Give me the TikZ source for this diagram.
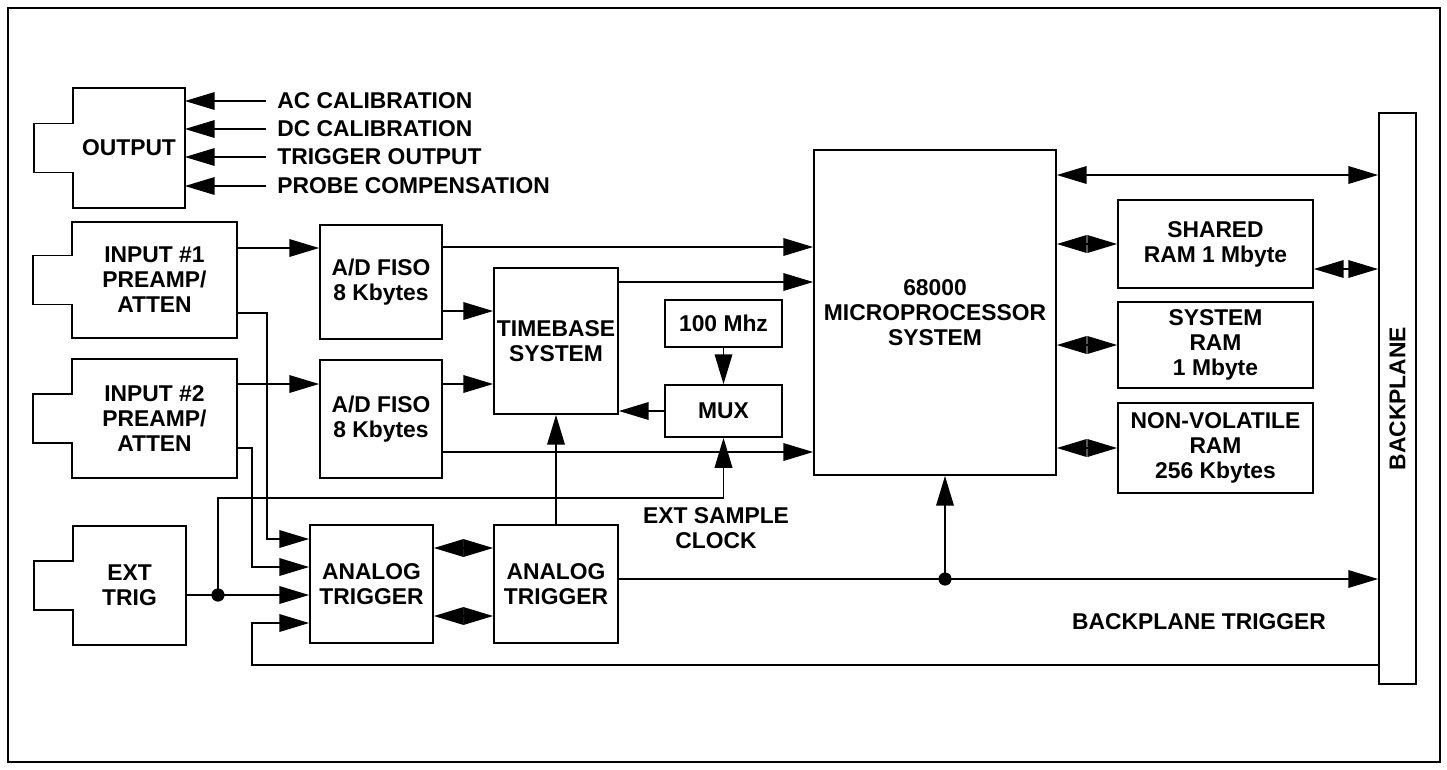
\documentclass[tikz,border=0pt]{standalone}
\usepackage{fontspec}
\setmainfont{Liberation Sans}
\usetikzlibrary{arrows.meta, positioning}

\tikzset{
  blk/.style={draw, line width=1pt, align=center, inner sep=0pt},
  plug/.style={blk, draw=none},
  lbl/.style={anchor=west, inner sep=0pt},
  wire/.style={line width=1pt},
  arr/.style={wire, -{Triangle[length=17pt,width=10pt]}},
  dbl/.style={wire, {Triangle[length=17pt,width=10pt]}-{Triangle[length=17pt,width=10pt]}},
  dot/.style={circle, fill, inner sep=0pt, minimum size=7.5pt},
}
% block with a plug on its left side
\newcommand{\plugbox}[1]{%
  \draw[line width=1pt] (#1.north west) -- (#1.north east) -- (#1.south east)
    -- (#1.south west) -- ([shift={(0,24.5)}]#1.west) -- ++(-39,0) -- ++(0,-49) -- ++(39,0) -- cycle;}

\begin{document}
\begin{tikzpicture}[x=0.02cm, y=-0.02cm, font=\fontsize{13}{14.2}\selectfont\bfseries]
    \useasboundingbox (0,0) rectangle (1447,769);
    \draw[line width=1.6pt] (8,8) rectangle (1440,762);

    % Plug-in blocks on the left
    \node[plug, minimum width=2.2cm, minimum height=2.36cm] (out) at (129,148) {OUTPUT};
    \node[plug, minimum width=3.26cm, minimum height=2.28cm] (in1) at (154.5,280) {INPUT \#1\\PREAMP/\\ATTEN};
    \node[plug, minimum width=3.26cm, minimum height=2.34cm] (in2) at (154.5,418.5) {INPUT \#2\\PREAMP/\\ATTEN};
    \node[plug, minimum width=2.22cm, minimum height=2.34cm] (ext) at (129.5,585.5) {EXT\\TRIG};
    \plugbox{out}
    \plugbox{in1}
    \plugbox{in2}
    \plugbox{ext}

    % Calibration signals
    \foreach \y/\t/\n in {101/AC CALIBRATION/ac, 129/DC CALIBRATION/dc, 157/TRIGGER OUTPUT/to, 186/PROBE COMPENSATION/pc} {
        \node[lbl] (lbl\n) at (277,\y) {\t};
        \draw[arr] ([shift={(-11,0)}]lbl\n.west) -- (lbl\n.west -| out.east);
    }

    % Acquisition
    \node[blk, minimum width=2.44cm, minimum height=2.28cm] (ad1) at (381,282) {A/D FISO\\8 Kbytes};
    \node[blk, minimum width=2.44cm, minimum height=2.36cm] (ad2) at (381,419) {A/D FISO\\8 Kbytes};
    \node[blk, minimum width=2.48cm, minimum height=2.92cm] (tb) at (556,341) {TIMEBASE\\SYSTEM};
    \node[blk, minimum width=2.34cm, minimum height=0.94cm] (clk) at (723.5,323.5) {100 Mhz};
    \node[blk, minimum width=2.34cm, minimum height=1.04cm] (mux) at (723.5,411) {MUX};
    \node[blk, minimum width=2.46cm, minimum height=2.36cm] (trg1) at (371.5,584) {ANALOG\\TRIGGER};
    \node[blk, minimum width=2.48cm, minimum height=2.36cm] (trg2) at (556,584) {ANALOG\\TRIGGER};
    \node (lblclk) at (716,528) [align=center] {EXT SAMPLE\\CLOCK};

    % Processor, memory and backplane
    \node[blk, minimum width=4.84cm, minimum height=6.5cm] (cpu) at (935,312.5) {68000\\MICROPROCESSOR\\SYSTEM};
    \node[blk, minimum width=3.9cm, minimum height=1.76cm] (sram) at (1215.5,244) {SHARED\\RAM 1 Mbyte};
    \node[blk, minimum width=3.9cm, minimum height=1.72cm] (sysram) at (1215.5,345) {SYSTEM\\RAM\\1 Mbyte};
    \node[blk, minimum width=3.9cm, minimum height=1.8cm] (nvram) at (1215.5,448) {NON-VOLATILE\\RAM\\256 Kbytes};
    \node[blk, minimum width=0.74cm, minimum height=11.42cm] (bp) at (1397.5,398.5) {};
    \node[rotate=90] (bptxt) at (bp.center) {BACKPLANE};
    \node (lblbpt) at (1199,622) {BACKPLANE TRIGGER};

    % Signal paths
    \draw[arr] (in1.east |- 0,248) -- (ad1.west |- 0,248);
    \draw[arr] (in2.east |- 0,384) -- (ad2.west |- 0,384);
    \draw[arr] (ad1.east |- 0,247) -- (cpu.west |- 0,247);
    \draw[arr] (ad1.east |- 0,311) -- (tb.west |- 0,311);
    \draw[arr] (ad2.east |- 0,384) -- (tb.west |- 0,384);
    \draw[arr] (ad2.east |- 0,452) -- (cpu.west |- 0,452);
    \draw[arr] (tb.east |- 0,282) -- (cpu.west |- 0,282);
    \draw[arr] (clk.south) -- (mux.north);
    \draw[arr] (mux.west) -- (mux.west -| tb.east);
    \draw[arr] (trg2.north) -- (tb.south);

    % Trigger paths
    \coordinate (jx) at (218,595);
    \coordinate (jc) at (945,579);
    \draw[arr] (in1.east |- 0,313) -- (267,313) -- (267,539) -- (trg1.west |- 0,539);
    \draw[arr] (in2.east |- 0,448) -- (252,448) -- (252,567) -- (trg1.west |- 0,567);
    \draw[arr] (ext.east |- jx) -- (jx) -- (trg1.west |- jx);
    \draw[arr] (jx) -- (218,498) -| (mux.south);
    \draw[arr] (bp.west |- 0,665) -- (252,665) -- (252,623) -- (trg1.west |- 0,623);
    \draw[dbl] (trg1.east |- 0,548) -- (trg2.west |- 0,548);
    \draw[dbl] (trg1.east |- 0,616) -- (trg2.west |- 0,616);
    \draw[arr] (trg2.east |- jc) -- (bp.west |- jc);
    \draw[arr] (jc) -- (jc |- cpu.south);
    \node[dot] (dx) at (jx) {};
    \node[dot] (dc) at (jc) {};

    % Bus
    \foreach \r in {sram, sysram, nvram}
        \draw[dbl] (\r.west -| cpu.east) -- (\r.west);
    \draw[dbl] (sram.east |- 0,269) -- (bp.west |- 0,269);
    \draw[dbl] (cpu.east |- 0,175) -- (bp.west |- 0,175);
\end{tikzpicture}
\end{document}
